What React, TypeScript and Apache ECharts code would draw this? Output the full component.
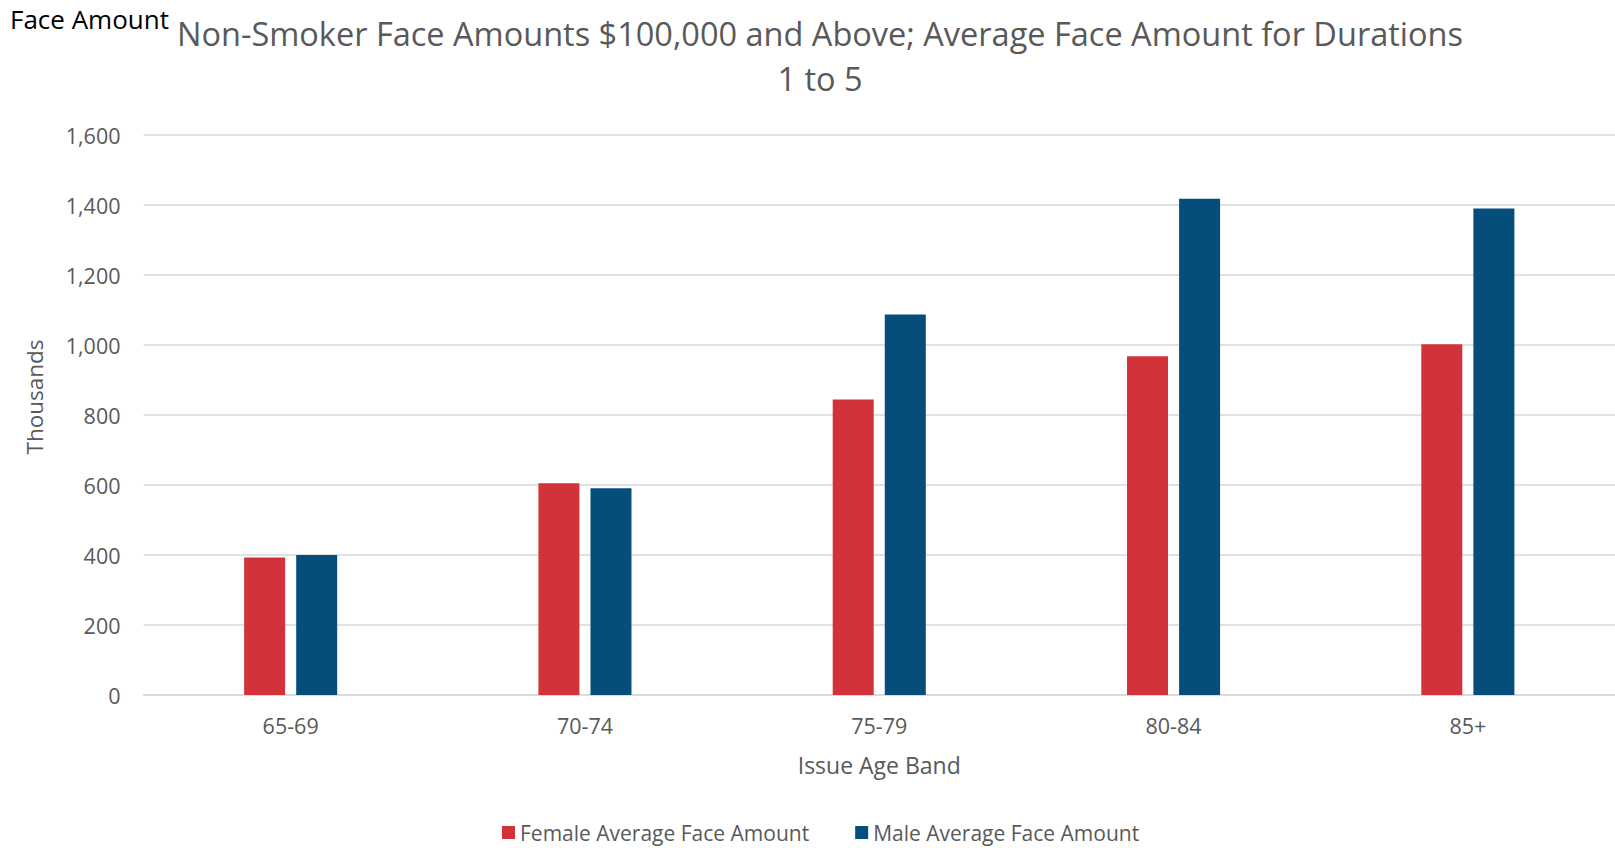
import React, { useEffect, useRef } from "react";
import * as echarts from "echarts";

const categories = ["65-69", "70-74", "75-79", "80-84", "85+"];
const femaleValues = [393, 605, 844, 968, 1002];
const maleValues = [400, 591, 1087, 1418, 1390];
const seriesNames = ["Female Average Face Amount", "Male Average Face Amount"];
const yTicks = { min: 0, max: 1600, interval: 200 };

const RED = "#d2323a";
const BLUE = "#054e7c";
const GRAY = "#595959";
const FONT = "Open Sans";

export default function App() {
  const ref = useRef<HTMLDivElement>(null);
  useEffect(() => {
    document.body.style.margin = "0";
    const chart = echarts.init(ref.current!, null, { renderer: "svg" });
    chart.setOption({
      animation: false,
      backgroundColor: "#ffffff",
      title: {
        text: "Non-Smoker Face Amounts $100,000 and Above; Average Face Amount for Durations\n1 to 5",
        left: 815,
        top: 6,
        textAlign: "center",
        textStyle: {
          fontFamily: FONT,
          fontSize: 32.5,
          fontWeight: "normal",
          color: GRAY,
          lineHeight: 45,
        },
      },
      graphic: [
        {
          type: "text",
          left: 10,
          top: 6,
          style: {
            text: "Face Amount",
            fontFamily: FONT,
            fontSize: 26,
            fill: "#000000",
          },
        },
        {
          type: "text",
          x: 34,
          y: 397,
          rotation: Math.PI / 2,
          style: {
            text: "Thousands",
            fontFamily: FONT,
            fontSize: 22.5,
            fill: GRAY,
            align: "center",
            verticalAlign: "middle",
          },
        },
      ],
      legend: {
        top: 822,
        left: 502,
        padding: 0,
        itemWidth: 13,
        itemHeight: 13,
        itemGap: 46,
        icon: "rect",
        textStyle: { fontFamily: FONT, fontSize: 21, color: GRAY },
        data: seriesNames,
      },
      grid: { left: 143.5, width: 1478, top: 135, bottom: 153, containLabel: false },
      xAxis: {
        type: "category",
        data: categories,
        name: "Issue Age Band",
        nameLocation: "middle",
        nameGap: 58,
        nameTextStyle: { fontFamily: FONT, fontSize: 23, color: GRAY },
        axisLine: { lineStyle: { color: "#d9d9d9", width: 1.5 } },
        axisTick: { show: false },
        axisLabel: { fontFamily: FONT, fontSize: 21.5, color: GRAY, margin: 19 },
      },
      yAxis: {
        type: "value",
        min: yTicks.min,
        max: yTicks.max,
        interval: yTicks.interval,
        axisLine: { show: false },
        axisTick: { show: false },
        splitLine: { lineStyle: { color: "#d9d9d9", width: 1.5 } },
        axisLabel: {
          fontFamily: FONT,
          fontSize: 21.5,
          color: GRAY,
          margin: 23,
          formatter: (v: number) => v.toLocaleString("en-US"),
        },
      },
      series: [
        {
          name: seriesNames[0],
          type: "bar",
          data: femaleValues,
          barWidth: 41,
          barGap: "27%",
          itemStyle: { color: RED },
        },
        {
          name: seriesNames[1],
          type: "bar",
          data: maleValues,
          barWidth: 41,
          itemStyle: { color: BLUE },
        },
      ],
    });
    return () => chart.dispose();
  }, []);
  return <div ref={ref} style={{ width: 1615, height: 848 }} />;
}
